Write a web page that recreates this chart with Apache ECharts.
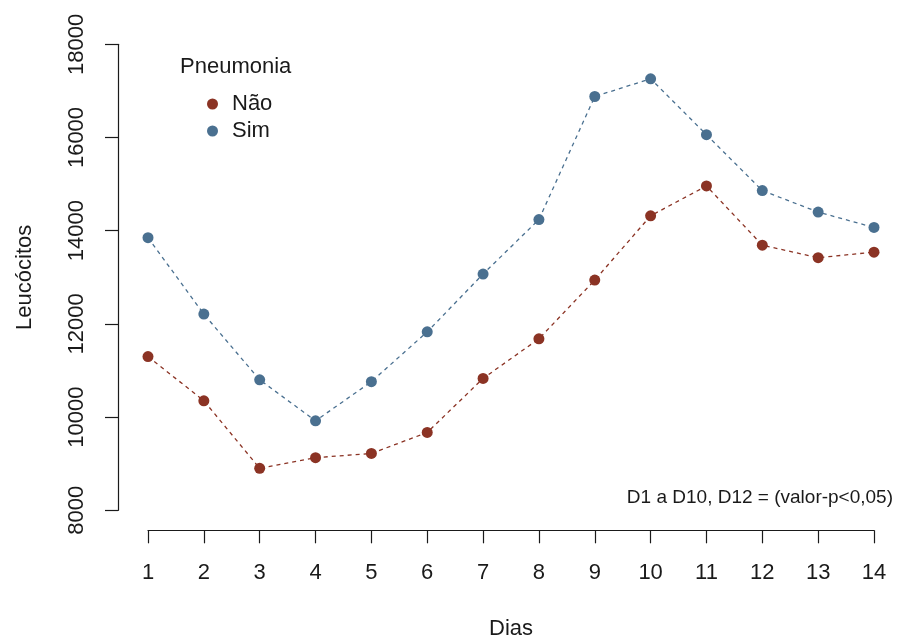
<!DOCTYPE html>
<html>
<head>
<meta charset="utf-8">
<script src="https://cdn.jsdelivr.net/npm/echarts@6/dist/echarts.min.js"></script>
<style>
  html, body { margin: 0; padding: 0; background: #fff; }
  #chart { width: 900px; height: 639px; }
</style>
</head>
<body>
<div id="chart"></div>
<script>
// dias 1..14
const dias = [1, 2, 3, 4, 5, 6, 7, 8, 9, 10, 11, 12, 13, 14]
// leucocitos medios por grupo
const nao = [11300, 10350, 8900, 9130, 9220, 9670, 10830, 11680, 12940, 14320, 14960, 13690, 13420, 13540]
const sim = [13850, 12210, 10800, 9920, 10760, 11830, 13070, 14240, 16880, 17260, 16060, 14860, 14400, 14070]
const yTicks = [8000, 10000, 12000, 14000, 16000, 18000]

const corNao = '#8b3324'
const corSim = '#4a7090'
const fonte = 'Liberation Sans, Arial, sans-serif'

const chart = echarts.init(document.getElementById('chart'), null, { renderer: 'canvas' })

function serie(name, vals, cor) {
  return {
    name: name,
    type: 'line',
    data: dias.map((d, i) => [d, vals[i]]),
    symbol: 'circle',
    symbolSize: 11,
    itemStyle: { color: cor },
    lineStyle: { color: cor, width: 1.3, type: [4, 4] },
    animation: false
  }
}

chart.setOption({
  backgroundColor: '#fff',
  textStyle: { fontFamily: fonte },
  title: [{
    text: 'Pneumonia',
    left: 175,
    top: 51,
    textStyle: { fontSize: 22, fontWeight: 'normal', color: '#1a1a1a', fontFamily: fonte }
  }, {
    text: 'D1 a D10, D12 = (valor-p<0,05)',
    right: 2,
    top: 483,
    textStyle: { fontSize: 19, fontWeight: 'normal', color: '#1a1a1a', fontFamily: fonte }
  }],
  legend: {
    orient: 'vertical',
    left: 202,
    top: 88,
    itemGap: 5,
    itemWidth: 11,
    itemHeight: 11,
    icon: 'circle',
    textStyle: { fontSize: 22, color: '#1a1a1a', padding: [0, 0, 0, 9], fontFamily: fonte },
    data: ['Não', 'Sim']
  },
  grid: { left: 148, right: 26, top: 44.3, bottom: 128.7, outerBoundsMode: 'none' },
  xAxis: {
    type: 'value',
    min: 1,
    max: 14,
    interval: 1,
    offset: 20,
    name: 'Dias',
    nameLocation: 'middle',
    nameGap: 88,
    nameTextStyle: { fontSize: 22, color: '#1a1a1a' },
    axisLine: { show: true, lineStyle: { color: '#1a1a1a', width: 1.2 } },
    axisTick: { show: true, length: 13, lineStyle: { color: '#1a1a1a', width: 1.2 } },
    axisLabel: { fontSize: 22, color: '#1a1a1a', margin: 32 },
    splitLine: { show: false }
  },
  yAxis: {
    type: 'value',
    min: yTicks[0],
    max: yTicks[yTicks.length - 1],
    interval: 2000,
    offset: 30,
    name: 'Leucócitos',
    nameLocation: 'middle',
    nameGap: 82,
    nameTextStyle: { fontSize: 22, color: '#1a1a1a' },
    axisLine: { show: true, lineStyle: { color: '#1a1a1a', width: 1.2 } },
    axisTick: { show: true, length: 13, lineStyle: { color: '#1a1a1a', width: 1.2 } },
    axisLabel: { fontSize: 22, color: '#1a1a1a', rotate: 90, margin: 30, formatter: v => String(v) },
    splitLine: { show: false }
  },
  series: [
    serie('Não', nao, corNao),
    serie('Sim', sim, corSim)
  ]
})
</script>
</body>
</html>
